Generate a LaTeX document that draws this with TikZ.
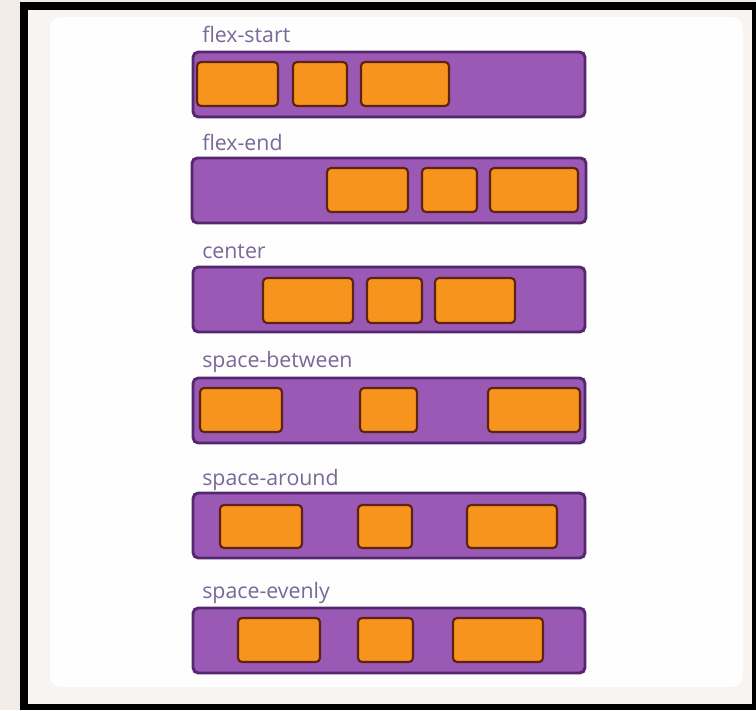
\documentclass[tikz,border=0pt]{standalone}
\usepackage{fontspec}
\setmainfont{Open Sans}
\usetikzlibrary{calc}
\definecolor{pagebg}{HTML}{F2ECE9}
\definecolor{cardbg}{HTML}{FEFEFE}
\definecolor{flexpurple}{HTML}{9B59B6}
\definecolor{flexedge}{HTML}{54276F}
\definecolor{itemorange}{HTML}{F7941D}
\definecolor{itemedge}{HTML}{5E2210}
\definecolor{labelgray}{HTML}{7A6898}

\begin{document}
\begin{tikzpicture}[x=0.75pt, y=-0.75pt,
  container/.style={fill=flexpurple, draw=flexedge, line width=2.2pt, rounded corners=4pt},
  item/.style={fill=itemorange, draw=itemedge, line width=1.6pt, rounded corners=3pt},
  caption/.style={anchor=base west, inner sep=0pt, text=labelgray, font=\fontsize{16}{18}\selectfont}]
  % ---- frame and card ----
  \fill[pagebg] (0,0) rectangle (756,710);
  \fill[black] (20,2) rectangle (756,710);
  \fill[pagebg!60!white] (28,10) rectangle (752,704);
  \fill[cardbg, rounded corners=8pt] (50,17) rectangle (743,687);
  % ---- flex-start: items packed on the left ----
  \node[caption] (capStart) at (202,43) {flex-start};
  \draw[container] (193,52) rectangle (585,117);
  \draw[item] (197,62) rectangle (278,106);
  \draw[item] (293,62) rectangle (347,106);
  \draw[item] (361,62) rectangle (449,106);
  % ---- flex-end: items packed on the right ----
  \node[caption] (capEnd) at (202,150) {flex-end};
  \draw[container] (192,158) rectangle (586,223);
  \draw[item] (327,168) rectangle (408,212);
  \draw[item] (422,168) rectangle (477,212);
  \draw[item] (490,168) rectangle (578,212);
  % ---- center ----
  \node[caption] (capCenter) at (202,258) {center};
  \draw[container] (193,267) rectangle (585,332);
  \draw[item] (263,278) rectangle (353,323);
  \draw[item] (367,278) rectangle (422,323);
  \draw[item] (435,278) rectangle (515,323);
  % ---- space-between ----
  \node[caption] (capBetween) at (202,367) {space-between};
  \draw[container] (193,378) rectangle (585,443);
  \draw[item] (200,388) rectangle (282,432);
  \draw[item] (360,388) rectangle (417,432);
  \draw[item] (488,388) rectangle (580,432);
  % ---- space-around ----
  \node[caption] (capAround) at (202,485) {space-around};
  \draw[container] (193,493) rectangle (585,558);
  \draw[item] (220,505) rectangle (302,548);
  \draw[item] (358,505) rectangle (412,548);
  \draw[item] (467,505) rectangle (557,548);
  % ---- space-evenly ----
  \node[caption] (capEvenly) at (202,598) {space-evenly};
  \draw[container] (193,608) rectangle (585,673);
  \draw[item] (238,618) rectangle (320,662);
  \draw[item] (358,618) rectangle (413,662);
  \draw[item] (453,618) rectangle (543,662);
\end{tikzpicture}
\end{document}
